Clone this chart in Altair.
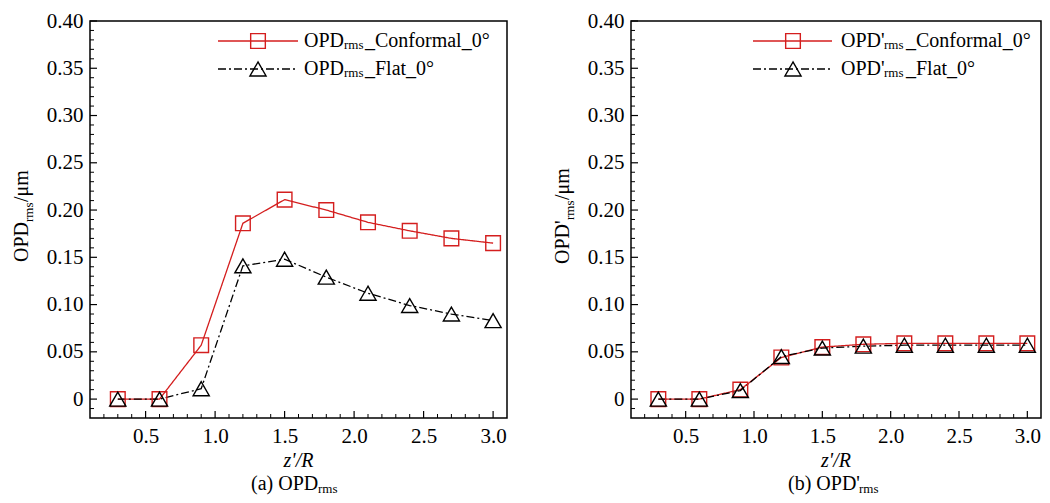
import altair as alt
import pandas as pd

# ---------------- data ----------------
x_vals = [0.3, 0.6, 0.9, 1.2, 1.5, 1.8, 2.1, 2.4, 2.7, 3.0]
a_conformal = [0.0, 0.0, 0.057, 0.186, 0.211, 0.200, 0.187, 0.178, 0.170, 0.165]
a_flat = [0.0, 0.0, 0.011, 0.141, 0.148, 0.129, 0.112, 0.099, 0.090, 0.083]
b_conformal = [0.0, 0.0, 0.010, 0.044, 0.055, 0.058, 0.059, 0.059, 0.059, 0.059]
b_flat = [0.0, 0.0, 0.009, 0.045, 0.054, 0.056, 0.057, 0.057, 0.057, 0.057]

y_major = [0.0, 0.05, 0.10, 0.15, 0.20, 0.25, 0.30, 0.35, 0.40]
x_major = [0.5, 1.0, 1.5, 2.0, 2.5, 3.0]
y_minor = [round(-0.01 + 0.01 * i, 2) for i in range(41)]
y_minor = [v for v in y_minor if round(v * 100) % 5 != 0]
x_minor = [round(0.2 + 0.1 * i, 1) for i in range(29)]
x_minor = [v for v in x_minor if round(v * 10) % 5 != 0]

FONT = "Liberation Serif"
RED = "#d41e1e"
H = 397
W_A = 417
W_B = 410
ONE = pd.DataFrame({"k": [0]})

XS = alt.Scale(domain=[0.1, 3.1], nice=False, zero=False)
YS = alt.Scale(domain=[-0.02, 0.40], nice=False, zero=False)
XAX = alt.Axis(values=x_major, format=".1f", title=None, ticks=False, domain=False, grid=False,
               labelFont=FONT, labelFontSize=21, labelColor="black", labelPadding=7)
YAX = alt.Axis(values=y_major, labelExpr="datum.value == 0 ? '0' : format(datum.value, '.2f')",
               title=None, ticks=False, domain=False, grid=False,
               labelFont=FONT, labelFontSize=21, labelColor="black", labelPadding=7)


def txt(s, x, y, size=20, angle=0, italic=False, align="left", baseline="alphabetic"):
    kw = dict(text=s, font=FONT, fontSize=size, color="black", align=align,
              baseline=baseline, angle=angle)
    if italic:
        kw["fontStyle"] = "italic"
    return alt.Chart(ONE).mark_text(**kw).encode(x=alt.value(x), y=alt.value(y))


def panel(width, conf, flat, names, legend, ytitle, caption, anchor=False):
    df = pd.DataFrame({
        "x": x_vals + x_vals,
        "y": conf + flat,
        "s": ["conf"] * len(x_vals) + ["flat"] * len(x_vals),
    })
    dom = ["conf", "flat"]
    color = alt.Color("s:N", scale=alt.Scale(domain=dom, range=[RED, "black"]), legend=None)
    xenc = alt.X("x:Q", scale=XS, axis=XAX)
    yenc = alt.Y("y:Q", scale=YS, axis=YAX)
    lines = alt.Chart(df).mark_line(strokeWidth=1.3).encode(
        x=xenc, y=yenc, color=color,
        strokeDash=alt.StrokeDash("s:N", scale=alt.Scale(domain=dom, range=[[1, 0], [8, 3, 2, 3]]), legend=None),
        detail="s:N",
    )
    pts = alt.Chart(df).mark_point(filled=False, strokeWidth=1.4, opacity=1).encode(
        x=xenc, y=yenc, color=color,
        shape=alt.Shape("s:N", scale=alt.Scale(domain=dom, range=["square", "triangle-up"]), legend=None),
        size=alt.Size("s:N", scale=alt.Scale(domain=dom, range=[215, 260]), legend=None),
    )
    ymin = alt.Chart(pd.DataFrame({"y": y_minor})).mark_rule(color="black", strokeWidth=1).encode(
        y=yenc, x=alt.value(0), x2=alt.value(4))
    ymaj = alt.Chart(pd.DataFrame({"y": y_major})).mark_rule(color="black", strokeWidth=1.2).encode(
        y=yenc, x=alt.value(0), x2=alt.value(7))
    xmin = alt.Chart(pd.DataFrame({"x": x_minor})).mark_rule(color="black", strokeWidth=1).encode(
        x=xenc, y=alt.value(H), y2=alt.value(H - 4))
    xmaj = alt.Chart(pd.DataFrame({"x": x_major})).mark_rule(color="black", strokeWidth=1.2).encode(
        x=xenc, y=alt.value(H), y2=alt.value(H - 7))

    lx0, lx1, lm, tx, subx, restx = legend
    layers = [lines, pts, ymin, ymaj, xmin, xmaj]
    # legend (built by hand to allow subscripts)
    layers.append(alt.Chart(ONE).mark_rule(color=RED, strokeWidth=1.3).encode(
        x=alt.value(lx0), x2=alt.value(lx1), y=alt.value(20)))
    layers.append(alt.Chart(ONE).mark_rule(color="black", strokeWidth=1.3, strokeDash=[8, 3, 2, 3]).encode(
        x=alt.value(lx0), x2=alt.value(lx1), y=alt.value(48)))
    layers.append(alt.Chart(ONE).mark_point(shape="square", filled=False, size=215, color=RED,
                                            strokeWidth=1.4, opacity=1).encode(
        x=alt.value(lm), y=alt.value(20)))
    layers.append(alt.Chart(ONE).mark_point(shape="triangle-up", filled=False, size=260, color="black",
                                            strokeWidth=1.4, opacity=1).encode(
        x=alt.value(lm), y=alt.value(48)))
    for row_y, (head, rest) in zip([20, 48], names):
        layers.append(txt(head, tx, row_y + 6))
        layers.append(txt("rms", subx, row_y + 8, size=13))
        layers.append(txt(rest, restx, row_y + 6))
    # rotated y title with subscript
    yhead, ystart, ysub = ytitle
    layers.append(txt(yhead, -62, ystart, angle=270))
    layers.append(txt("rms", -57, ystart - ysub, size=13, angle=270))
    layers.append(txt("/\u03bcm", -62, ystart - ysub - 20, angle=270))
    # x title
    layers.append(txt("z'/R", width / 2, 446, italic=True, align="center"))
    # caption
    chead, cx, csub = caption
    layers.append(txt(chead, cx, 469))
    layers.append(txt("rms", csub, 472, size=13))
    if anchor:
        layers.append(alt.Chart(ONE).mark_rect(opacity=0).encode(
            x=alt.value(-81), x2=alt.value(0), y=alt.value(-12), y2=alt.value(472)))
    return alt.layer(*layers).properties(width=width, height=H)


left = panel(
    W_A, a_conformal, a_flat,
    names=[("OPD", "_Conformal_0\u00b0"), ("OPD", "_Flat_0\u00b0")],
    legend=(128, 208, 168, 214, 254, 275),
    ytitle=("OPD", 241, 40),
    caption=("(a) OPD", 161, 228),
    anchor=True,
)
right = panel(
    W_B, b_conformal, b_flat,
    names=[("OPD'", "_Conformal_0\u00b0"), ("OPD'", "_Flat_0\u00b0")],
    legend=(122, 201, 162, 210, 253, 275),
    ytitle=("OPD'", 243, 44),
    caption=("(b) OPD'", 157, 228),
)

chart = alt.hconcat(left, right, spacing=124, bounds="flush").properties(
    padding=0, background="white"
).configure_view(stroke="black", strokeWidth=1.5)

chart.save("out.html", embed_options={"renderer": "svg", "actions": False})
